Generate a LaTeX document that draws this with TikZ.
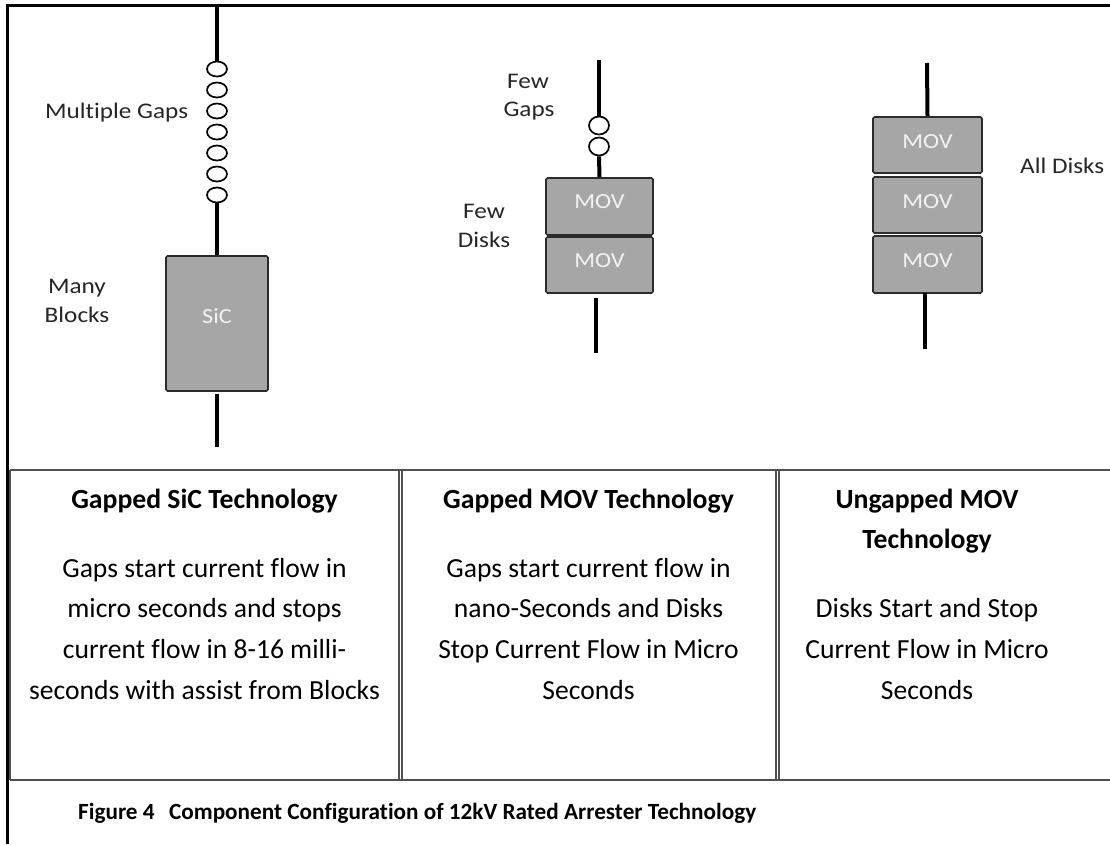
\documentclass[tikz,border=0pt]{standalone}
\usepackage{fontspec}
\setmainfont{Carlito}[Ligatures=NoCommon]
\usetikzlibrary{shapes.geometric}
\definecolor{boxfill}{HTML}{A6A6A6}
\definecolor{boxline}{HTML}{2B2B2B}
\definecolor{tabline}{HTML}{505050}
\definecolor{labtext}{HTML}{262626}
\definecolor{boxtxt}{HTML}{F2F2F2}
\newcommand\widetext[1]{\scalebox{1.13}[1]{#1}}
\begin{document}
\begin{tikzpicture}[x=1pt,y=-1pt,
  lead/.style={line width=4pt,black},
  framel/.style={line width=3pt,black},
  tabl/.style={line width=1.6pt,tabline},
  gapring/.style={ellipse,draw=black,line width=1.7pt,fill=white,minimum width=20pt,minimum height=15pt,inner sep=0pt},
  gapringb/.style={gapring,minimum height=18pt},
  blockbox/.style={draw=boxline,fill=boxfill,line width=1.6pt,rounded corners=1.5pt,inner sep=0pt},
  boxtext/.style={anchor=base,text=boxtxt,font=\fontsize{21.5}{25}\selectfont,inner sep=0pt},
  labeltext/.style={anchor=base,text=labtext,font=\fontsize{22.3}{26}\selectfont,inner sep=0pt},
  headtext/.style={anchor=base,font=\fontsize{27.7}{32}\selectfont\bfseries,inner sep=0pt},
  bodytext/.style={anchor=base,font=\fontsize{27.6}{32}\selectfont,inner sep=0pt},
  captext/.style={anchor=base west,font=\fontsize{23.2}{27}\selectfont\bfseries,inner sep=0pt}
]
\useasboundingbox (0,0) rectangle (1110,844);
\fill[white] (0,0) rectangle (1110,844);

% outer frame
\draw[framel] (7.5,4) -- (7.5,844);
\draw[framel] (6,5.5) -- (1110,5.5);

% ---------- Gapped SiC ----------
\coordinate (aTop) at (217,7);
\foreach \k in {1,...,7}{
  \node[gapring] (ag\k) at (217,{69+21*(\k-1)}) {};
}
\node[blockbox,minimum width=102pt,minimum height=135pt] (sic) at (217,323.5) {};
\coordinate (aBot) at (217,447);
\draw[lead] (aTop) -- (ag1.north);
\draw[lead] (ag7.south) -- (sic.north);
\draw[lead] ([yshift=-2pt]sic.south) -- (aBot);
\node[boxtext] (sict) at (217,323) {\widetext{SiC}};
\node[labeltext,anchor=base west] (lmg) at (45,118) {\widetext{Multiple Gaps}};
\node[labeltext] (lmany) at (77,293) {\widetext{Many}};
\node[labeltext] (lblocks) at (77,322) {\widetext{Blocks}};

% ---------- Gapped MOV ----------
\coordinate (bTop) at (599,60);
\node[gapringb] (bg1) at (599,125.5) {};
\node[gapringb] (bg2) at (599,146.5) {};
\node[blockbox,minimum width=107pt,minimum height=57pt] (bm1) at (599.5,206.5) {};
\node[blockbox,minimum width=107pt,minimum height=56pt] (bm2) at (599.5,265) {};
\coordinate (bBot1) at (596,298);
\coordinate (bBot) at (596,353);
\draw[lead] (bTop) -- (bg1.north);
\draw[lead] (bg2.south) -- (bm1.north);
\draw[lead] (bBot1) -- (bBot);
\node[boxtext] (bm1t) at (599.5,208) {\widetext{MOV}};
\node[boxtext] (bm2t) at (599.5,267) {\widetext{MOV}};
\node[labeltext] (lfew1) at (528,88) {\widetext{Few}};
\node[labeltext] (lgaps) at (529,116) {\widetext{Gaps}};
\node[labeltext] (lfew2) at (484,218) {\widetext{Few}};
\node[labeltext] (ldisks) at (484,247) {\widetext{Disks}};

% ---------- Ungapped MOV ----------
\coordinate (cTop) at (927,63);
\node[blockbox,minimum width=109pt,minimum height=56pt] (cm1) at (927.5,145) {};
\node[blockbox,minimum width=109pt,minimum height=56pt] (cm2) at (927.5,205) {};
\node[blockbox,minimum width=109pt,minimum height=57pt] (cm3) at (927.5,264.5) {};
\coordinate (cBot1) at (925,293);
\coordinate (cBot) at (925,349);
\draw[lead] (cTop) -- (cm1.north);
\draw[lead] (cBot1) -- (cBot);
\node[boxtext] (cm1t) at (927.5,148) {\widetext{MOV}};
\node[boxtext] (cm2t) at (927.5,208) {\widetext{MOV}};
\node[boxtext] (cm3t) at (927.5,267) {\widetext{MOV}};
\node[labeltext,anchor=base west] (lall) at (1020,173) {\widetext{All Disks}};

% ---------- table ----------
\draw[tabl] (10,470) -- (1112,470);
\draw[tabl] (10,780) -- (1112,780);
\draw[tabl] (10,470) -- (10,780);
\draw[tabl] (399,470) -- (399,780);
\draw[tabl] (401.8,470) -- (401.8,780);
\draw[tabl] (776,470) -- (776,780);
\draw[tabl] (779,470) -- (779,780);

\node[headtext] (h1) at (204.5,508) {Gapped SiC Technology};
\node[bodytext] (t11) at (204.5,577) {Gaps start current flow in};
\node[bodytext] (t12) at (204.5,617.5) {micro seconds and stops};
\node[bodytext] (t13) at (204.5,658.5) {current flow in 8-16 milli-};
\node[bodytext] (t14) at (204.5,699.5) {seconds with assist from Blocks};

\node[headtext] (h2) at (588.5,508) {Gapped MOV Technology};
\node[bodytext] (t21) at (588.5,577) {Gaps start current flow in};
\node[bodytext] (t22) at (588.5,617.5) {nano-Seconds and Disks};
\node[bodytext] (t23) at (588.5,658.5) {Stop Current Flow in Micro};
\node[bodytext] (t24) at (588.5,699.5) {Seconds};

\node[headtext] (h3a) at (927,508) {Ungapped MOV};
\node[headtext] (h3b) at (927,548) {Technology};
\node[bodytext] (t31) at (927,617.5) {Disks Start and Stop};
\node[bodytext] (t32) at (927,658.5) {Current Flow in Micro};
\node[bodytext] (t33) at (927,699.5) {Seconds};

\node[captext] (cap) at (78,819) {Figure 4\hspace{0.4em} Component Configuration of 12kV Rated Arrester Technology};
\end{tikzpicture}
\end{document}
